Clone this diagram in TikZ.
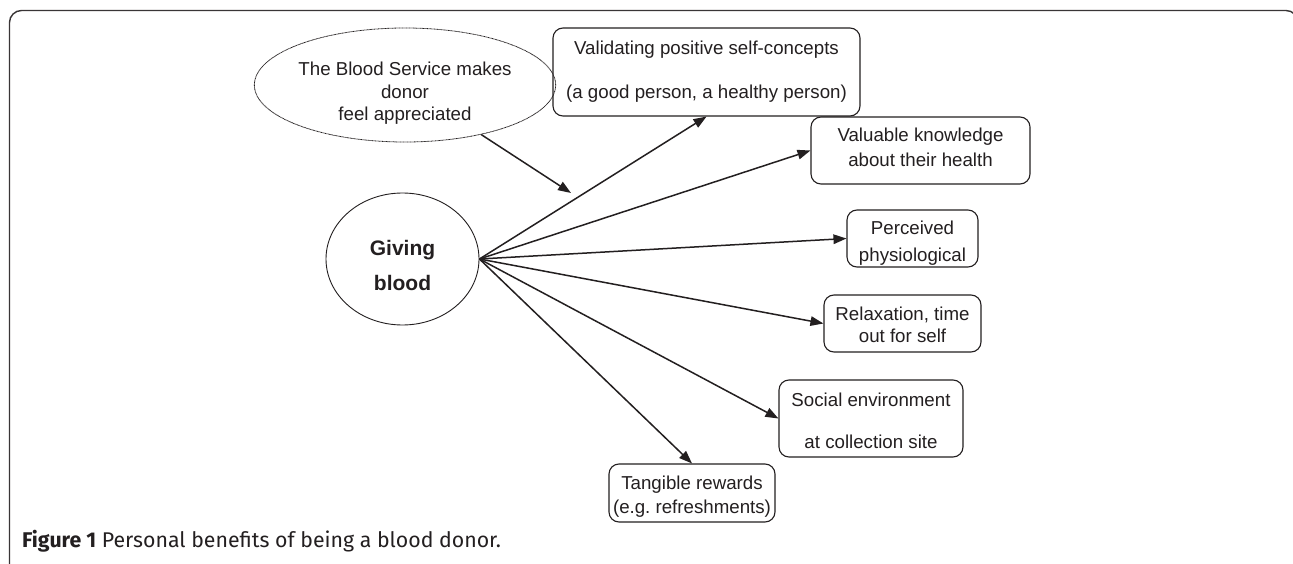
\documentclass[tikz,border=0pt]{standalone}
\usepackage{fontspec}
\setmainfont{Liberation Sans}
\newfontfamily\capfont{Fira Sans}
\usetikzlibrary{shapes.geometric,arrows.meta}
\definecolor{ink}{HTML}{231F20}
\frenchspacing
% lower a centred block of lines by #1 without changing its size
\newcommand\lowered[2]{\raisebox{-#1}[\height][\depth]{\begin{tabular}{@{}c@{}}#2\end{tabular}}}
\tikzset{
  benefit/.style={draw=ink, line width=1.1pt, rounded corners=10pt, inner sep=0pt,
    text=ink, font=\fontsize{18.7}{22}\selectfont},
  oval/.style={ellipse, draw=ink, inner sep=0pt, text=ink},
  link/.style={draw=ink, line width=1.5pt, -{Triangle[length=13pt,width=9.5pt]}},
  frame/.style={draw=ink!90, line width=1.4pt, rounded corners=12pt}
}
\begin{document}
\begin{tikzpicture}[x=1pt,y=-1pt]
\useasboundingbox (0,0) rectangle (1293,564);
\clip (0,0) rectangle (1293,564);
\fill[white] (0,0) rectangle (1293,564);
\draw[frame] (9.5,10.5) rectangle (1298,620);

% source nodes
\node[oval, line width=0.8pt, dash pattern=on 0.9pt off 0.5pt,
      minimum width=264pt, minimum height=114pt,
      font=\fontsize{18.7}{22.5}\selectfont] (bs) at (405,85)
  {\lowered{9pt}{The Blood Service makes\\donor\\feel appreciated}};
\node[oval, line width=0.9pt, minimum width=153pt, minimum height=132pt,
      font=\bfseries\fontsize{21}{35}\selectfont] (gb) at (402.5,259)
  {\lowered{7pt}{Giving\\blood}};

% benefit boxes
\node[benefit, minimum width=307pt, minimum height=88pt] (val) at (706.5,72)
  {\lowered{0pt}{Validating positive self-concepts\\[22pt](a good person, a healthy person)}};
\node[benefit, minimum width=219pt, minimum height=67pt] (know) at (920.5,150.5)
  {\lowered{-1pt}{Valuable knowledge\\[3pt]about their health}};
\node[benefit, minimum width=131pt, minimum height=57pt] (perc) at (912.5,238.5)
  {\lowered{5pt}{Perceived\\[5pt]physiological}};
\node[benefit, minimum width=157pt, minimum height=57pt] (relax) at (902.5,323.5)
  {\lowered{3.5pt}{Relaxation, time\\out for self}};
\node[benefit, minimum width=184pt, minimum height=77pt] (soc) at (871,418.5)
  {\lowered{4.5pt}{Social environment\\[20pt]at collection site}};
\node[benefit, minimum width=166pt, minimum height=58pt] (tang) at (692,493)
  {\lowered{4pt}{Tangible rewards\\[2pt](e.g. refreshments)}};

\coordinate (tip) at (571,193);

% connectors
\draw[link] (bs) -- (tip);
\draw[link] (gb.east) -- (val.south);
\draw[link] (gb.east) -- (know.west);
\draw[link] (gb.east) -- (perc.west);
\draw[link] (gb.east) -- (relax.west);
\draw[link] (gb.east) -- (soc.west);
\draw[link] (gb.east) -- (tang.north);

% caption
\node[anchor=base west, inner sep=0pt, text=ink, font=\capfont\fontsize{21.3}{25}\selectfont] (cap) at (22,547)
  {\textbf{Figure 1} Personal benefits of being a blood donor.};
\end{tikzpicture}
\end{document}
